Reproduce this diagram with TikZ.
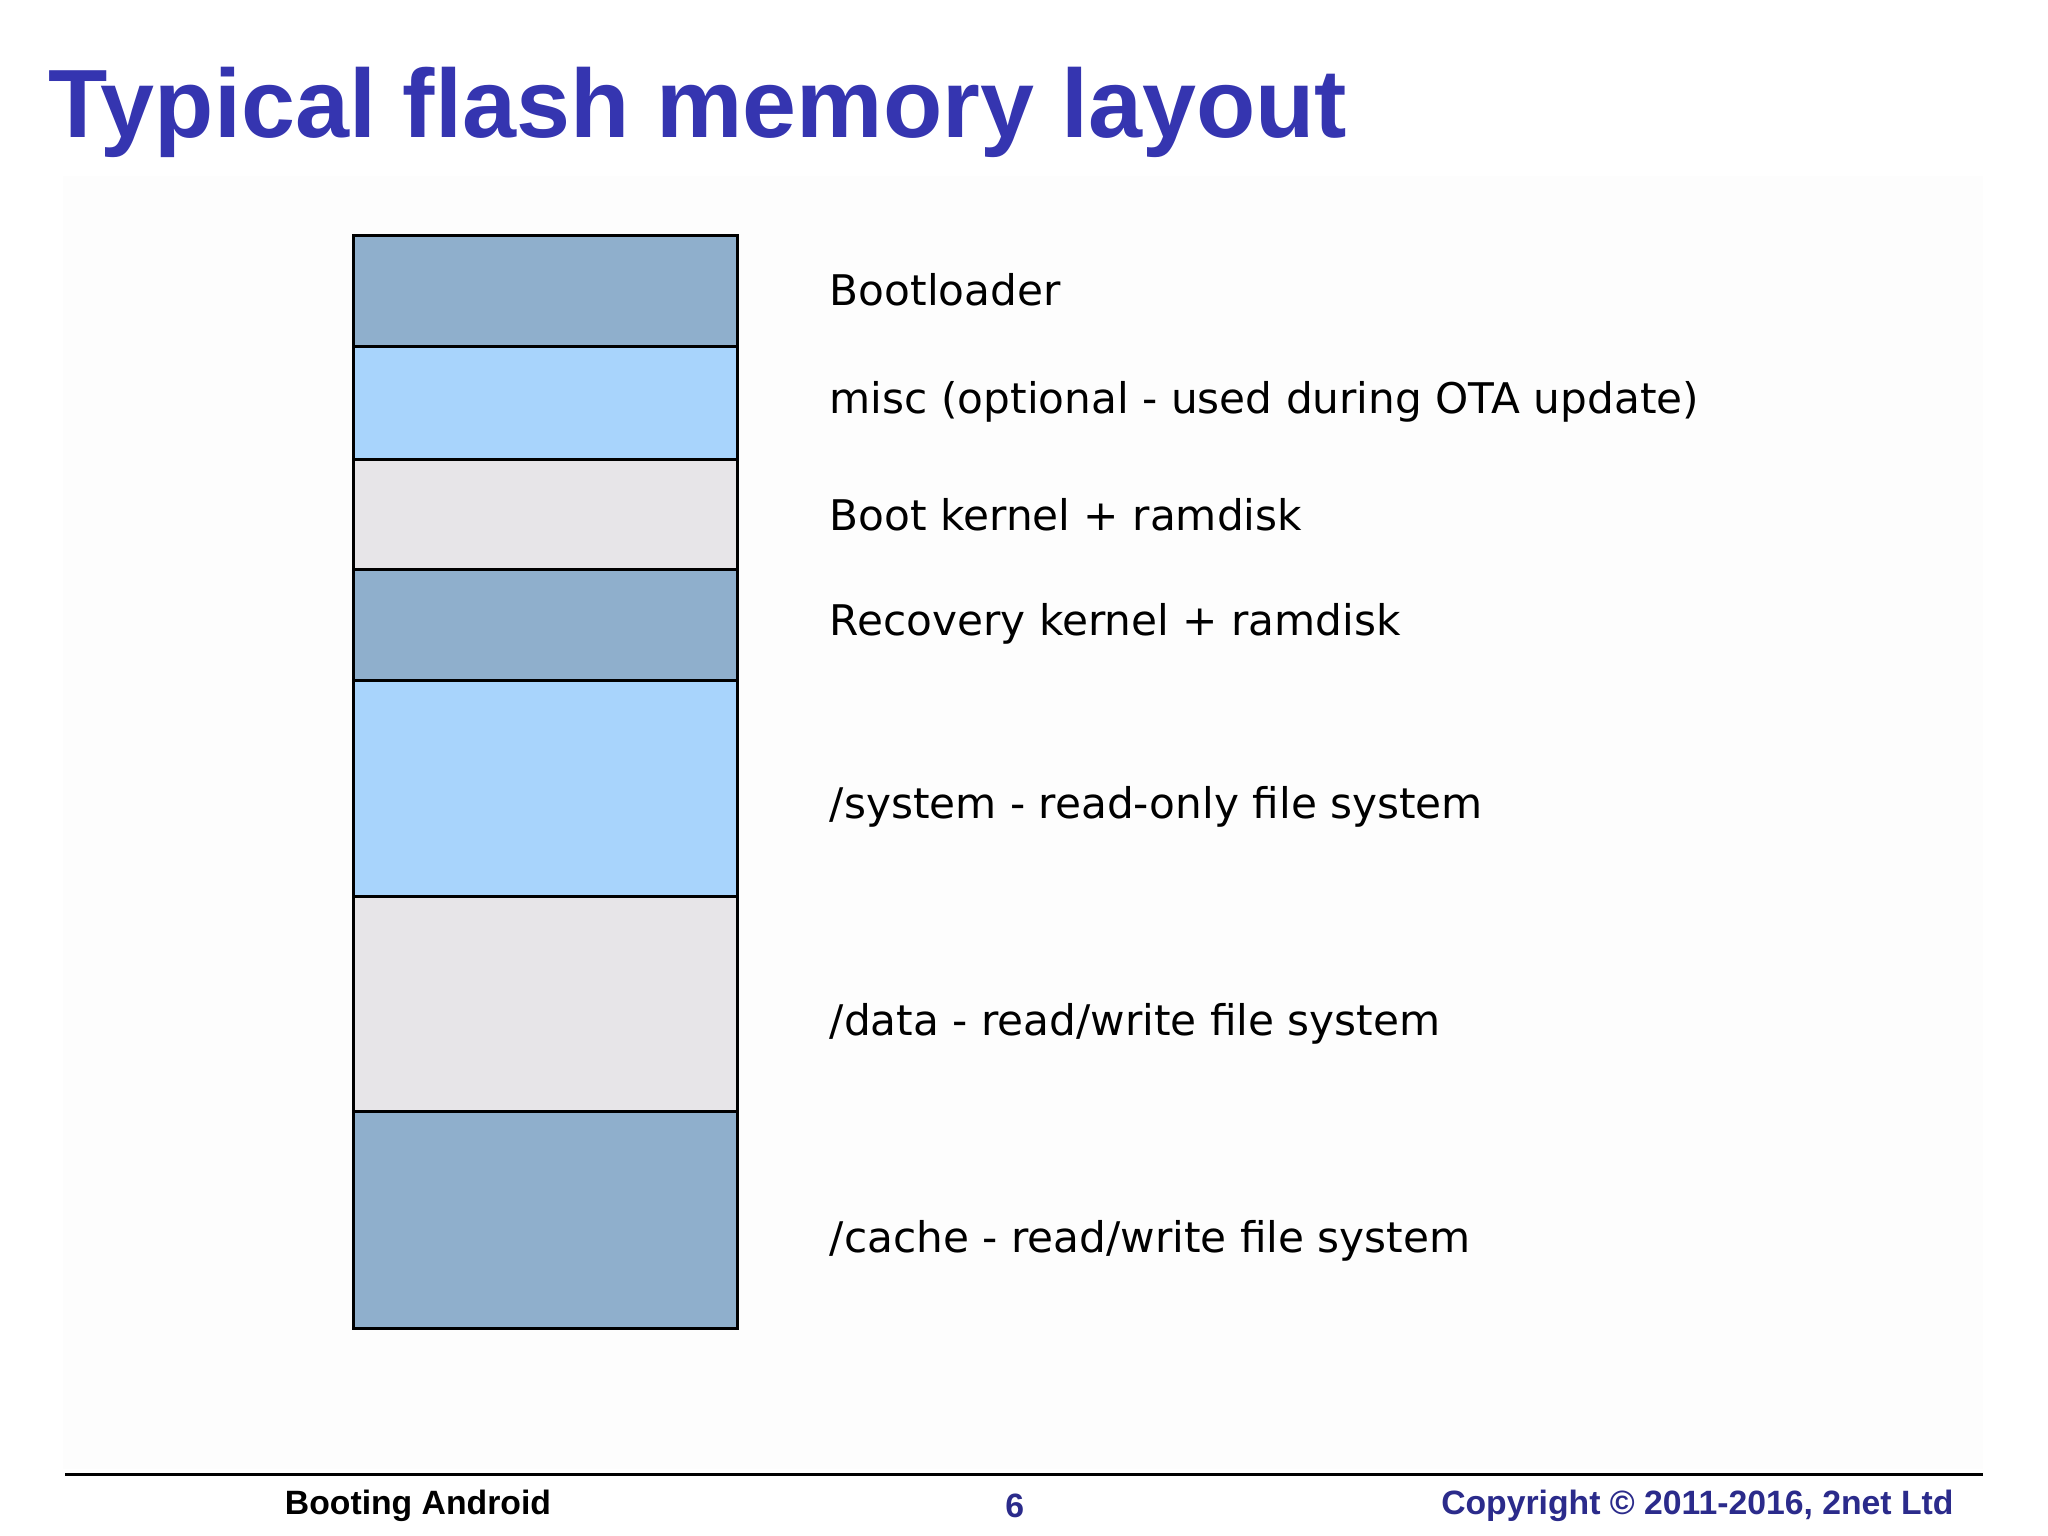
\documentclass[tikz,border=0pt]{standalone}
\usepackage{fontspec}
\setmainfont{DejaVu Sans}
\newfontfamily\hel{Liberation Sans}
\definecolor{tblue}{HTML}{3535B0}
\definecolor{fblue}{HTML}{2B2B8B}
\definecolor{cA}{HTML}{8FAFCC}
\definecolor{cB}{HTML}{A8D4FC}
\definecolor{cC}{HTML}{E7E5E8}
\begin{document}
\begin{tikzpicture}[x=0.02cm,y=-0.02cm,
  part/.style={draw=black,line width=1.3pt},
  lab/.style={anchor=west,font=\fontsize{18.4}{22}\selectfont,inner sep=0pt},
  foot/.style={font=\hel\bfseries\fontsize{14.7}{17}\selectfont,inner sep=0pt}]
\fill[white] (0,0) rectangle (1568,1176);
\useasboundingbox (0,0) rectangle (1568,1176);
\fill[black!0.8] (48,135) rectangle (1518,1125);
\node[anchor=base west,inner sep=0pt,text=tblue,font=\hel\bfseries\fontsize{42.3}{48}\selectfont] (title) at (37,105) {Typical flash memory layout};
\fill[cA] (271,180) rectangle (565,265);
\fill[cB] (271,265) rectangle (565,352);
\fill[cC] (271,352) rectangle (565,436);
\fill[cA] (271,436) rectangle (565,521);
\fill[cB] (271,521) rectangle (565,686);
\fill[cC] (271,686) rectangle (565,851);
\fill[cA] (271,851) rectangle (565,1017);
\draw[part] (271,180) rectangle (565,1017);
\foreach \y in {265,352,436,521,686,851} \draw[part] (271,\y) -- (565,\y);
\node[lab] (l1) at (635,222) {Bootloader};
\node[lab] (l2) at (635,308) {misc (optional - used during OTA update)};
\node[lab] (l3) at (635,394) {Boot kernel + ramdisk};
\node[lab] (l4) at (635,478) {Recovery kernel + ramdisk};
\node[lab] (l5) at (635,618) {/system - read-only file system};
\node[lab] (l6) at (635,784) {/data - read/write file system};
\node[lab] (l7) at (635,950) {/cache - read/write file system};
\draw[line width=1.5pt] (50,1129) -- (1518,1129);
\node[foot] (f1) at (320,1153) {Booting Android};
\node[foot,text=fblue] (f2) at (777,1153) {6};
\node[foot,text=fblue,anchor=east] (f3) at (1496,1153) {Copyright © 2011-2016, 2net Ltd};
\end{tikzpicture}
\end{document}
